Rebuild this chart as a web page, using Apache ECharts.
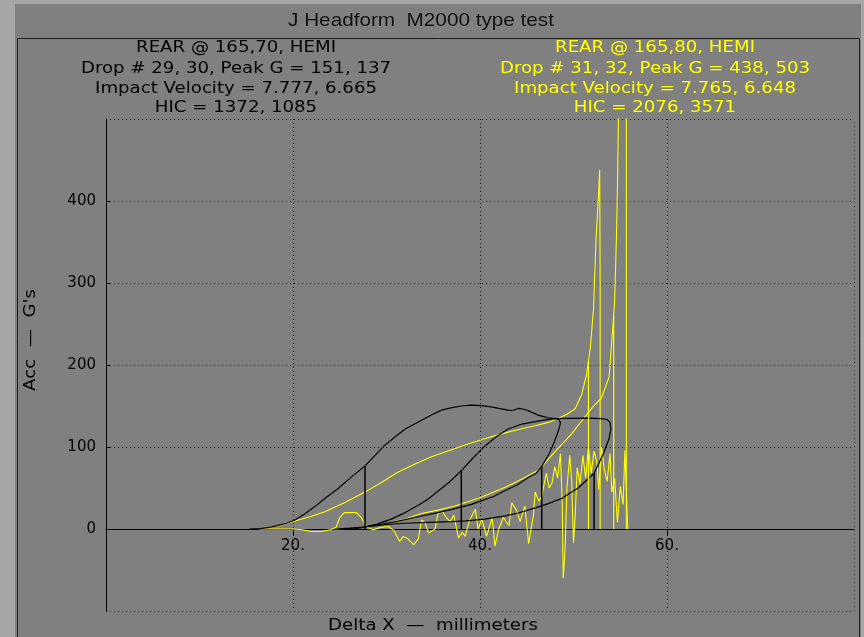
<!DOCTYPE html>
<html><head><meta charset="utf-8">
<script src="https://cdn.jsdelivr.net/npm/echarts@6/dist/echarts.min.js"></script>
<style>html,body{margin:0;padding:0;background:#808080;}#c{width:864px;height:637px;}</style>
</head><body><div id="c"></div>
<script>
// ---------- data ----------
const titleText = "J Headform  M2000 type test";
const leftHeader = ["REAR @ 165,70, HEMI", "Drop # 29, 30, Peak G = 151, 137", "Impact Velocity = 7.777, 6.665", "HIC = 1372, 1085"];
const rightHeader = ["REAR @ 165,80, HEMI", "Drop # 31, 32, Peak G = 438, 503", "Impact Velocity = 7.765, 6.648", "HIC = 2076, 3571"];
const xAxisName = "Delta X  —  millimeters";
const yAxisName = "Acc  —  G's";
const xTickValues = [20, 40, 60];
const yTickValues = [0, 100, 200, 300, 400];

// Drop 29 (black) [deltaX mm, G]
const drop29 = [[15.3,0],[16.5,0.5],[17.5,2],[18.4,4.5],[19.3,7],[20.2,11],[21.2,18],[22.3,27],[23.5,38],[24.8,49],[26.2,63],[27.7,77],[28.8,90],[29.8,102],[31,113],[32,122],[33,128],[33.8,133],[34.8,139],[35.9,145],[37,148],[38,150],[39,151],[40.2,150.5],[41.2,149],[42,147],[43,145],[43.5,144.5],[44.1,147],[44.7,146],[45.2,144],[45.8,141],[46.3,138.5],[47.3,135.5],[48.4,134],[48.6,130],[48.5,124],[48.2,114],[47.8,102],[47.4,92],[46.9,82],[46.6,76],[46,68],[45.2,63],[44,54],[42.7,47],[41.5,40],[39.1,30],[37,24],[35.5,20],[33,14],[31,9],[29.5,6],[28.4,4],[27.5,2],[26.5,0]];
// Drop 30 (black)
const drop30 = [[24.5,0],[26,0.5],[27.7,2.5],[29,6],[30.5,12],[32,20],[33.4,29],[34.5,37],[35.5,46],[36.8,58],[38,71],[39.2,86],[40.5,101],[41.8,113],[43,122],[44.5,128],[45.9,131],[47,133],[48,134.5],[49.5,135],[51.6,135.3],[53,134.5],[53.6,133.5],[53.9,130],[54,122],[53.8,110],[53.2,92],[52.7,80],[52.2,68],[51.4,59.5],[50.5,50],[49.5,43],[48.8,37.5],[47.3,31],[46,26],[44.1,19.5],[42.7,16],[40.5,12],[38.5,10],[37,9],[34.5,8],[32,7],[30,5.5],[28,3],[26,1],[24.5,0]];
// Drop 31 (yellow, smooth)
const drop31 = [[16.5,0],[17.3,1.5],[18.5,4],[20.2,9.7],[21.8,15],[23.4,21],[25.5,32],[27.7,45],[29.5,57],[31.25,69.6],[33,79],[34.8,88],[36.8,96],[38.8,104],[40.5,110],[42.3,116],[44,121],[45.9,126],[47.3,130],[48.4,135],[49.3,140],[50.2,147],[50.9,165],[51.4,189],[51.8,221],[52.15,270],[52.4,351],[52.7,412],[52.8,438],[52.85,300],[52.85,0]];
// Drop 32 (yellow, smooth)
const drop32 = [[24.5,0],[26,1],[28.4,3.6],[30,7],[32,12],[33.7,19],[35.5,23],[37.3,28],[40,38],[42.7,51],[44.5,61],[46.3,72],[48,94],[49.8,116],[50.9,132],[52,148],[53,160],[53.8,185],[54.1,230],[54.4,278],[54.6,359],[54.7,416],[54.8,497],[54.9,560],[55.65,560],[55.65,0]];
// Yellow oscillating trace
const yellowTrace = [[16.5,0],[20,0],[21,-1],[22,-3],[23,-3],[24,-1],[24.6,2],[25,14],[25.5,20],[26.8,20],[27.3,14],[27.9,2],[28.6,-1],[29.4,2],[30.2,3],[30.8,-2],[31.4,-15],[31.8,-9],[32.3,-12],[32.9,-19],[33.4,-12],[33.75,11],[34.1,8],[34.5,-5],[35.2,0],[35.5,19],[36,21],[36.4,14],[36.8,9],[37.2,17],[37.7,-11],[38.1,-4],[38.4,-9],[38.9,11],[39.5,24],[39.8,0],[40.2,12],[40.7,-9],[41.3,14],[41.6,-21],[42,0],[42.5,14],[43.1,4],[43.4,32],[43.9,23],[44.3,9],[44.8,28],[45.2,-18],[45.7,16],[45.9,45],[46.3,34],[46.6,40],[47.1,68],[47.4,50],[47.7,56],[48,76],[48.3,62],[48.6,92],[48.8,30],[48.9,-60],[49.1,-25],[49.3,50],[49.6,90],[49.8,60],[50,-17],[50.2,20],[50.4,75],[50.7,55],[51,90],[51.3,62],[51.6,100],[51.9,68],[52.2,95],[52.5,82],[52.7,48],[53,100],[53.3,72],[53.6,58],[53.9,92],[54.1,45],[54.4,62],[54.7,8],[55,52],[55.3,30],[55.5,96],[55.7,98],[55.8,0]];
// HIC interval markers [deltaX, top G]
const hicBlack = [[27.7,77],[38,71],[46.6,76],[52.2,68]];
const hicYellow = [[51.6,205],[54.3,260]];

// ---------- chart ----------
const chart = echarts.init(document.getElementById('c'), null, {renderer:'canvas'});
const BLACK = '#000000', YELLOW = '#ffff00';
const FONT15 = '15px "DejaVu Sans"';
const GRID = {left:106, top:119, width:748, height:492};
const X_MIN = 0, X_MAX = 80, Y_MIN = -100, Y_MAX = 500;
// distance (px) from grid bottom to the y = 0 line, so the x axis sits on zero
const zeroOffset = GRID.height * (0 - Y_MIN) / (Y_MAX - Y_MIN);
const gridDots = {color:'#111', width:1, type:[1,3]};

function lineSeries(data, color, width) {
  return {type:'line', data:data, showSymbol:false, symbol:'none', silent:true,
    lineStyle:{color:color, width:width}, clip:true, z:3};
}
const series = [
  lineSeries(yellowTrace, YELLOW, 1.1),
  lineSeries(drop31, YELLOW, 1.1),
  lineSeries(drop32, YELLOW, 1.1),
  lineSeries(drop29, BLACK, 1.2),
  lineSeries(drop30, BLACK, 1.2)
];
// dotted frame lines at the axis extremes
series[0].markLine = {silent:true, symbol:['none','none'], label:{show:false}, lineStyle:gridDots, z:1,
  data:[{yAxis:Y_MAX}, {yAxis:Y_MIN}, {xAxis:X_MAX}]};
hicYellow.forEach(p => series.push(lineSeries([[p[0],0],[p[0],p[1]]], YELLOW, 1.2)));
hicBlack.forEach(p => series.push(lineSeries([[p[0],0],[p[0],p[1]]], BLACK, 1.5)));

function txt(s, x, y, color, opts) {
  opts = opts || {};
  return {type:'text', x:x, y:y, z:20, scaleX:opts.scaleX || 1.21, rotation:opts.rotation || 0,
    style:{text:s, fill:color, font:opts.font || FONT15,
      textAlign:'center', align:'center', textVerticalAlign:'middle', verticalAlign:'middle'}};
}
const graphics = [
  {type:'rect', shape:{x:0,y:0,width:15,height:637}, style:{fill:'#a6a6a6'}, z:-10},
  {type:'rect', shape:{x:0,y:0,width:864,height:4}, style:{fill:'#a6a6a6'}, z:-10},
  {type:'rect', shape:{x:861,y:0,width:3,height:637}, style:{fill:'#a6a6a6'}, z:-10},
  {type:'rect', shape:{x:17.5,y:38.5,width:842,height:640}, style:{fill:'none', stroke:'#1e1e1e', lineWidth:1}, z:-5},
  txt(titleText, 421, 21, '#111', {font:'19px "Liberation Sans"', scaleX:1.09})
];
const rowY = [48, 69, 89, 108];
leftHeader.forEach((s,i) => graphics.push(txt(s, 236, rowY[i], BLACK)));
rightHeader.forEach((s,i) => graphics.push(txt(s, 655, rowY[i], YELLOW)));
graphics.push(txt(xAxisName, 433, 626, BLACK));
graphics.push(txt(yAxisName, 31, 340, BLACK, {rotation:Math.PI/2}));

chart.setOption({
  animation:false,
  backgroundColor:'#808080',
  graphic:graphics,
  grid:{left:GRID.left, top:GRID.top, width:GRID.width, height:GRID.height, containLabel:false},
  xAxis:{type:'value', min:X_MIN, max:X_MAX, interval:20, position:'bottom', offset:-zeroOffset,
    axisLine:{show:true, onZero:false, lineStyle:{color:BLACK, width:1}},
    axisTick:{show:true, length:6, inside:false, customValues:xTickValues, lineStyle:{color:BLACK, width:1}},
    axisLabel:{show:true, customValues:xTickValues, margin:10, color:BLACK, fontFamily:'DejaVu Sans', fontSize:15,
      formatter:v => v + '.'},
    splitLine:{show:true, lineStyle:gridDots}},
  yAxis:{type:'value', min:Y_MIN, max:Y_MAX, interval:100,
    axisLine:{show:true, onZero:false, lineStyle:{color:BLACK, width:1}},
    axisTick:{show:true, length:5, inside:true, customValues:yTickValues, lineStyle:{color:BLACK, width:1}},
    axisLabel:{show:true, customValues:yTickValues, margin:10, color:BLACK, fontFamily:'DejaVu Sans', fontSize:15},
    splitLine:{show:true, lineStyle:gridDots}},
  series:series
});
</script></body></html>
